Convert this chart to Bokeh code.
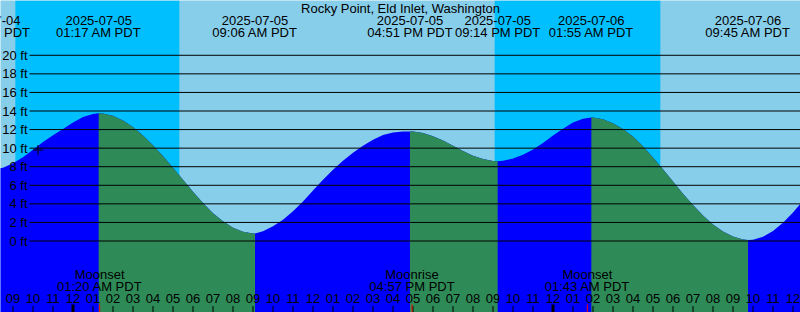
import pandas as pd
from bokeh.plotting import figure
from bokeh.models import Range1d
from bokeh.embed import file_html
from bokeh.resources import INLINE
from bokeh.core.properties import value

# ---------------- data ----------------
title = "Rocky Point, Eld Inlet, Washington"
base = pd.Timestamp("2025-07-05 00:00")

extreme_times = ["2025-07-04 19:43", "2025-07-05 01:17", "2025-07-05 09:06",
                 "2025-07-05 16:51", "2025-07-05 21:14", "2025-07-06 01:55",
                 "2025-07-06 09:45"]
extreme_heights = [7.6, 13.75, 0.8, 11.8, 8.6, 13.3, 0.1]

curve_start = "2025-07-04 20:00"   # half-hourly heights (ft)
curve_heights = [
    7.64, 7.90, 8.37, 9.03, 9.82, 10.65, 11.40, 12.05, 12.75, 13.35, 13.68,
    13.72, 13.48, 12.99, 12.27, 11.35, 10.30, 9.15, 7.90, 6.60, 5.30, 4.08,
    3.00, 2.12, 1.43, 0.99, 0.81,
    1.05, 1.60, 2.30, 3.20, 4.25, 5.45, 6.60, 7.68, 8.65, 9.50, 10.25, 10.90,
    11.42, 11.68, 11.78,
    11.79, 11.63, 11.29, 10.81, 10.25, 9.68, 9.18, 8.82, 8.62,
    8.64, 8.88, 9.30, 9.85, 10.55, 11.35, 12.10, 12.75, 13.17,
    13.30, 13.12, 12.69, 12.05, 11.25, 10.20, 9.00, 7.72, 6.40, 5.10, 3.88,
    2.75, 1.78, 1.02, 0.48, 0.16,
    0.14, 0.46, 1.08, 1.97, 3.08, 4.34,
]

sunset_times = ["2025-07-04 21:07", "2025-07-05 21:05"]
sunrise_times = ["2025-07-05 05:19", "2025-07-06 05:22"]

moon_events = ["Moonset", "Moonrise", "Moonset"]
moon_times = ["2025-07-05 01:20", "2025-07-05 16:57", "2025-07-06 01:43"]

hour_start = "2025-07-04 21:00"
hour_labels = ["09", "10", "11",
               "12", "01", "02", "03", "04", "05", "06", "07", "08", "09", "10", "11",
               "12", "01", "02", "03", "04", "05", "06", "07", "08", "09", "10", "11",
               "12", "01", "02", "03", "04", "05", "06", "07", "08", "09", "10", "11",
               "12"]
midnight_times = ["2025-07-05 00:00", "2025-07-06 00:00"]

height_ticks = [0, 2, 4, 6, 8, 10, 12, 14, 16, 18, 20]
height_labels = ["0 ft", "2 ft", "4 ft", "6 ft", "8 ft", "10 ft", "12 ft",
                 "14 ft", "16 ft", "18 ft", "20 ft"]

marker_time = ["2025-07-04 22:15"]
marker_height = [9.8]

# ---------------- styles ----------------
DAY = "#87CEEB"
NIGHT = "#00BFFF"
FLOOD = "#0000FF"
EBB = "#2E8B57"
FONT = value("Liberation Sans")
FS = "13px"
FLOOR = -9.0


def hours(ts):
    return [(pd.Timestamp(t) - base) / pd.Timedelta(hours=1) for t in ts]


p = figure(width=800, height=312, output_backend="svg", toolbar_location=None,
           x_range=Range1d(-3.625, 36.375), y_range=Range1d(-7.7, 25.9),
           x_axis_type=None, y_axis_type=None, min_border=0)
p.extra_x_ranges = {"px": Range1d(0, 800)}
p.extra_y_ranges = {"py": Range1d(312, 0)}
p.outline_line_color = None
p.background_fill_color = DAY
p.border_fill_color = DAY

# night background
p.quad(left=hours(sunset_times), right=hours(sunrise_times), top=0, bottom=312,
       y_range_name="py", fill_color=NIGHT, line_color=None)

# tide curve
samples = pd.date_range(curve_start, periods=len(curve_heights), freq="30min")
sh = hours(samples)
eh = hours(extreme_times)
pts = sorted(zip(sh + eh, curve_heights + extreme_heights))
start, end = eh[0], sh[-1]
allp = [q for q in pts if start <= q[0] <= end]
p.patch([q[0] for q in allp] + [end, start], [q[1] for q in allp] + [FLOOR, FLOOR],
        fill_color=FLOOD, line_color=None)

bounds = eh + [end]
ebb_x, ebb_y = [], []
for a, b in zip(bounds[:-1], bounds[1:]):
    seg = [q for q in pts if a <= q[0] <= b]
    if seg[-1][1] < seg[0][1]:
        ebb_x.append([q[0] for q in seg] + [b, a])
        ebb_y.append([q[1] for q in seg] + [FLOOR, FLOOR])
p.patches(ebb_x, ebb_y, fill_color=EBB, line_color=None)

# height grid lines and labels
p.segment(x0=29, x1=800, y0=height_ticks, y1=height_ticks, x_range_name="px",
          line_color="black", line_width=1)
p.text(x=[27] * len(height_ticks), y=height_ticks, text=height_labels,
       x_range_name="px", text_align="right", text_baseline="middle",
       text_font=FONT, text_font_size=FS, text_color="black")

# marker
p.scatter(x=hours(marker_time), y=marker_height, marker="cross", size=10,
          line_color="black", line_width=1)

# title
p.text(x=[400], y=[7.5], text=[title], x_range_name="px", y_range_name="py",
       text_align="center", text_baseline="alphabetic",
       text_font=FONT, text_font_size=FS, text_color="black")

# extreme labels
ets = [pd.Timestamp(t) for t in extreme_times]
p.text(x=eh, y=[19.5] * len(eh), text=[t.strftime("%Y-%m-%d") for t in ets],
       y_range_name="py", text_align="center", text_baseline="alphabetic",
       text_font=FONT, text_font_size=FS, text_color="black")
p.text(x=eh, y=[31.5] * len(eh), text=[t.strftime("%I:%M %p PDT") for t in ets],
       y_range_name="py", text_align="center", text_baseline="alphabetic",
       text_font=FONT, text_font_size=FS, text_color="black")

# moon labels
mh = hours(moon_times)
mts = [pd.Timestamp(t) for t in moon_times]
p.text(x=mh, y=[273.5] * len(mh), text=moon_events, y_range_name="py",
       text_align="center", text_baseline="alphabetic",
       text_font=FONT, text_font_size=FS, text_color="black")
p.text(x=mh, y=[285.5] * len(mh), text=[t.strftime("%I:%M %p PDT") for t in mts],
       y_range_name="py", text_align="center", text_baseline="alphabetic",
       text_font=FONT, text_font_size=FS, text_color="black")

# hour ticks and labels
hh = hours(pd.date_range(hour_start, periods=len(hour_labels), freq="1h"))
p.segment(x0=hh, x1=hh, y0=305.5, y1=312, y_range_name="py",
          line_color="black", line_width=1)
p.text(x=hh, y=[297.5] * len(hh), text=hour_labels, y_range_name="py",
       text_align="center", text_baseline="alphabetic",
       text_font=FONT, text_font_size=FS, text_color="black")
md = hours(midnight_times)
p.segment(x0=md, x1=md, y0=304, y1=312, y_range_name="py",
          line_color="black", line_width=3)
p.segment(x0=mh, x1=mh, y0=304, y1=312, y_range_name="py",
          line_color="red", line_width=1)

open("out.html", "w").write(file_html(p, INLINE))
